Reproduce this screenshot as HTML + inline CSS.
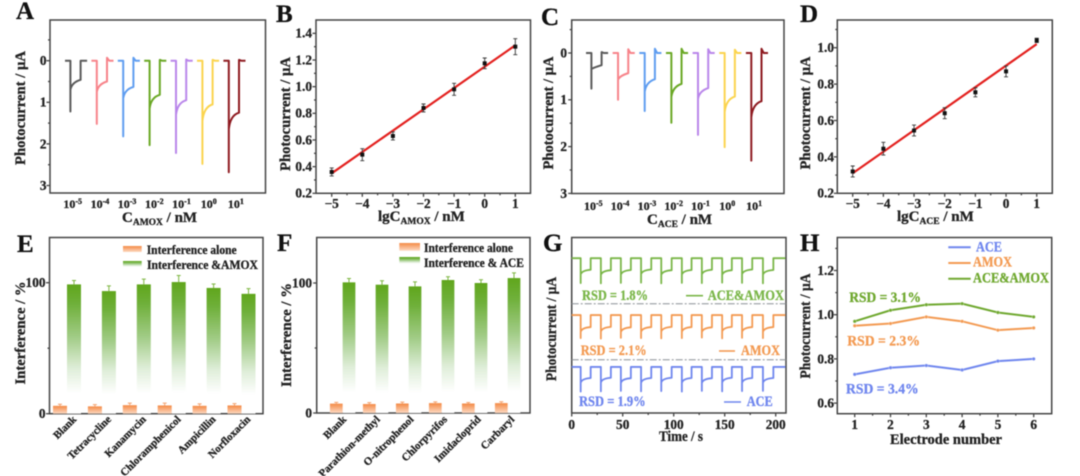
<!DOCTYPE html>
<html lang="en">
<head>
<meta charset="utf-8">
<title>Photocurrent sensing figure</title>
<style>
html,body{margin:0;padding:0;background:#fff;}
svg{display:block;filter:blur(0.5px);}
text{font-family:"Liberation Serif","DejaVu Serif",serif;font-weight:bold;color:#222;fill:currentColor;stroke:currentColor;stroke-width:.3px;}
.frame{fill:none;stroke:#444;stroke-width:1.5;}
.letter{font-size:25px;color:#111;}
.tick{font-size:13.3px;}
.conc{font-size:12px;}
.title{font-size:15px;}
.sub{font-size:9.5px;}
.cat{font-size:10.8px;}
.leg{font-size:12.5px;}
.rsd{font-size:14.5px;}
.lg{font-size:14.5px;}
</style>
</head>
<body>
<svg id="fig" width="1080" height="476" viewBox="0 0 1080 476" xmlns="http://www.w3.org/2000/svg">
<defs>
<linearGradient id="gradG" x1="0" y1="0" x2="0" y2="1">
<stop offset="0" stop-color="#60a61c"/><stop offset="0.15" stop-color="#6fb03a"/><stop offset="0.4" stop-color="#a0cb84"/><stop offset="0.65" stop-color="#dfeed9"/><stop offset="0.84" stop-color="#ffffff"/>
</linearGradient>
<linearGradient id="gradO" x1="0" y1="0" x2="0" y2="1">
<stop offset="0" stop-color="#f48a45"/><stop offset="1" stop-color="#fdd9c2"/>
</linearGradient>
</defs>

<g id="panelA">
<text class="letter" x="16" y="19">A</text>
<rect class="frame" x="50" y="20" width="215.5" height="173"/>
<text class="title" transform="translate(25,108) rotate(-90)" text-anchor="middle" textLength="114" lengthAdjust="spacingAndGlyphs">Photocurrent / µA</text>
<text class="title" x="122" y="222">C<tspan class="sub" dy="3">AMOX</tspan><tspan dy="-3"> / nM</tspan></text>
</g>

<g id="panelB">
<text class="letter" x="276" y="22">B</text>
<rect class="frame" x="316" y="20" width="214.5" height="173.3"/>
<text class="title" transform="translate(290,114) rotate(-90)" text-anchor="middle" textLength="114" lengthAdjust="spacingAndGlyphs">Photocurrent / µA</text>
<text class="title" x="378" y="221">lgC<tspan class="sub" dy="3">AMOX</tspan><tspan dy="-3"> / nM</tspan></text>
</g>

<g id="panelC">
<text class="letter" x="541" y="25">C</text>
<rect class="frame" x="571.7" y="20" width="212.3" height="173.5"/>
<text class="title" transform="translate(553,113) rotate(-90)" text-anchor="middle" textLength="113" lengthAdjust="spacingAndGlyphs">Photocurrent / µA</text>
<text class="title" x="647" y="224">C<tspan class="sub" dy="3">ACE</tspan><tspan dy="-3"> / nM</tspan></text>
</g>

<g id="panelD">
<text class="letter" x="800" y="22">D</text>
<rect class="frame" x="837.3" y="20" width="215" height="173.3"/>
<text class="title" transform="translate(810,113) rotate(-90)" text-anchor="middle" textLength="113" lengthAdjust="spacingAndGlyphs">Photocurrent / µA</text>
<text class="title" x="897" y="221">lgC<tspan class="sub" dy="3">ACE</tspan><tspan dy="-3"> / nM</tspan></text>
</g>

<g id="panelE">
<text class="letter" x="17" y="252">E</text>
<rect class="frame" x="49.5" y="237.5" width="213.5" height="176.2"/>
<text class="title" transform="translate(25,333) rotate(-90)" text-anchor="middle" textLength="103" lengthAdjust="spacingAndGlyphs">Interference / %</text>
<rect x="123" y="246" width="18.7" height="6" fill="url(#gradO)"/>
<rect x="123" y="261" width="18.7" height="7" fill="url(#gradG)"/>
<text class="leg" x="146.7" y="254" textLength="90" lengthAdjust="spacingAndGlyphs">Interference alone</text>
<text class="leg" x="147" y="269" textLength="111" lengthAdjust="spacingAndGlyphs">Interference &amp;AMOX</text>
</g>

<g id="panelF">
<text class="letter" x="277" y="251">F</text>
<rect class="frame" x="316.7" y="237.5" width="213.3" height="175.5"/>
<text class="title" transform="translate(291,335) rotate(-90)" text-anchor="middle" textLength="104" lengthAdjust="spacingAndGlyphs">Interference / %</text>
<rect x="399.3" y="243" width="20.7" height="7.7" fill="url(#gradO)"/>
<rect x="399.3" y="257" width="20.7" height="8" fill="url(#gradG)"/>
<text class="leg" x="424" y="252" textLength="89" lengthAdjust="spacingAndGlyphs">Interference alone</text>
<text class="leg" x="424" y="267" textLength="100" lengthAdjust="spacingAndGlyphs">Interference &amp; ACE</text>
</g>

<g id="panelG">
<text class="letter" x="543" y="251">G</text>
<rect class="frame" x="571.7" y="237.5" width="214.3" height="175.5"/>
<text class="title" transform="translate(556,329) rotate(-90)" text-anchor="middle" textLength="104" lengthAdjust="spacingAndGlyphs">Photocurrent / µA</text>
<text class="title" x="659" y="441" textLength="44" lengthAdjust="spacingAndGlyphs">Time / s</text>
<line x1="571.7" x2="786" y1="303.7" y2="303.7" stroke="#8b9096" stroke-width="1" stroke-dasharray="7 2 2 2"/>
<line x1="571.7" x2="786" y1="359.7" y2="359.7" stroke="#8b9096" stroke-width="1" stroke-dasharray="7 2 2 2"/>
<text class="rsd" x="582" y="300" style="color:#7ab648" textLength="66" lengthAdjust="spacingAndGlyphs">RSD = 1.8%</text>
<text class="rsd" x="580.7" y="355" style="color:#f39a52" textLength="66" lengthAdjust="spacingAndGlyphs">RSD = 2.1%</text>
<text class="rsd" x="579" y="406" style="color:#6f86ee" textLength="66.7" lengthAdjust="spacingAndGlyphs">RSD = 1.9%</text>
<line x1="686" x2="703" y1="295.7" y2="295.7" stroke="#7ab648" stroke-width="1.6"/>
<line x1="719" x2="735" y1="351" y2="351" stroke="#f39a52" stroke-width="1.6"/>
<line x1="724" x2="741" y1="402" y2="402" stroke="#6f86ee" stroke-width="1.6"/>
<text class="lg" x="707.7" y="300" style="color:#7ab648" textLength="76.3" lengthAdjust="spacingAndGlyphs">ACE&amp;AMOX</text>
<text class="lg" x="741" y="355" style="color:#f39a52" textLength="39" lengthAdjust="spacingAndGlyphs">AMOX</text>
<text class="lg" x="746.7" y="406" style="color:#6f86ee" textLength="26" lengthAdjust="spacingAndGlyphs">ACE</text>
</g>

<g id="panelH">
<text class="letter" x="800" y="251">H</text>
<rect class="frame" x="837.3" y="237.5" width="214.4" height="176.2"/>
<text class="title" transform="translate(810,326) rotate(-90)" text-anchor="middle" textLength="105" lengthAdjust="spacingAndGlyphs">Photocurrent / µA</text>
<text class="title" x="890" y="444" textLength="112" lengthAdjust="spacingAndGlyphs">Electrode number</text>
<line x1="948.3" x2="970.7" y1="247.3" y2="247.3" stroke="#6f86ee" stroke-width="2"/>
<line x1="948.3" x2="970.7" y1="263" y2="263" stroke="#f39a52" stroke-width="2"/>
<line x1="948.3" x2="970.7" y1="278.7" y2="278.7" stroke="#6fa82f" stroke-width="2"/>
<text class="lg" x="976" y="251.3" style="color:#6f86ee" textLength="26" lengthAdjust="spacingAndGlyphs">ACE</text>
<text class="lg" x="973" y="266.7" style="color:#f39a52" textLength="39" lengthAdjust="spacingAndGlyphs">AMOX</text>
<text class="lg" x="973" y="282.3" style="color:#6fa82f" textLength="76" lengthAdjust="spacingAndGlyphs">ACE&amp;AMOX</text>
<text class="rsd" x="849.3" y="302" style="color:#6fa82f" textLength="71.7" lengthAdjust="spacingAndGlyphs">RSD = 3.1%</text>
<text class="rsd" x="847.3" y="345.3" style="color:#f39a52" textLength="72.7" lengthAdjust="spacingAndGlyphs">RSD = 2.3%</text>
<text class="rsd" x="846" y="393.7" style="color:#6f86ee" textLength="72.7" lengthAdjust="spacingAndGlyphs">RSD = 3.4%</text>
</g>
</svg>

<script>
// Panel A: transient peaks per concentration
const concExponents = ["-5","-4","-3","-2","-1","0","1"];
const traceColors = ["#5a5a5a","#f7838a","#5f9df0","#6aa825","#b986ea","#fbd44e","#8e1a20"];
const aPeak = [1.22,1.52,1.82,2.03,2.22,2.48,2.68];
const aKnee = [0.70,0.75,0.90,1.15,1.30,1.45,1.65];
const aPlateau = [0.46,0.50,0.63,0.82,0.95,1.05,1.25];
const aOvershoot = [0.0,0.07,0.07,0.02,0.03,0.02,0.02];
const aYTicks = [0,1,2,3];
const aYMinor = [-0.5,0.5,1.5,2.5];

// Panel C
const cPeak = [0.76,1.00,1.24,1.49,1.75,2.01,2.30];
const cKnee = [0.34,0.57,0.83,0.94,0.98,1.26,1.37];
const cPlateau = [0.26,0.43,0.56,0.66,0.75,0.93,1.03];
const cOvershoot = [0.02,0.08,0.09,0.09,0.08,0.07,0.09];
const cYTicks = [0,1,2,3];
const cYMinor = [-0.5,0.5,1.5,2.5];

// Panel B
const lgX = [-5,-4,-3,-2,-1,0,1];
const lgMinor = [-4.5,-3.5,-2.5,-1.5,-0.5,0.5];
const bValues = [0.36,0.49,0.63,0.84,0.98,1.175,1.30];
const bErrors = [0.03,0.045,0.03,0.03,0.045,0.04,0.06];
const bFit = [0.35,1.31];
const bYTicks = [0.2,0.4,0.6,0.8,1.0,1.2,1.4];
const bYMinor = [0.3,0.5,0.7,0.9,1.1,1.3];

// Panel D
const dValues = [0.32,0.445,0.545,0.64,0.755,0.87,1.04];
const dErrors = [0.03,0.035,0.03,0.03,0.025,0.03,0.012];
const dFit = [0.31,1.02];
const dYTicks = [0.2,0.4,0.6,0.8,1.0];
const dYMinor = [0.3,0.5,0.7,0.9,1.1];

// Panel E
const eCategories = ["Blank","Tetracycline","Kanamycin","Chloramphenicol","Ampicillin","Norfloxacin"];
const eMix = [98.7,93.6,98.7,100.5,96,91.5];
const eMixErr = [3,4,4,5,3,4];
const eAlone = [6,5.6,6.5,6.3,6,6.3];
const eAloneErr = [1.2,1.3,1.6,1.8,1.5,1.4];

// Panel F
const fCategories = ["Blank","Parathion-methyl","O-nitrophenol","Chlorpyrifos","Imidacloprid","Carbaryl"];
const fMix = [100.5,98.7,97.4,102.3,100,103.8];
const fMixErr = [3,3,3.5,2.5,2.5,4];
const fAlone = [7.2,6.9,7.3,7.6,7.3,7.6];
const fAloneErr = [1,1.1,1.1,1,0.8,1.1];

// Panel G: ten light on/off cycles (seconds; µA with stacking offsets)
const gDrop = [8.8,28.6,48.2,68,87.8,108,127.6,147.5,167,187.5];
const gRise = [18.6,38.4,58,78,98,117.5,137.5,157,177,197.7];
const gGreenPeak = [1.04,1.05,1.03,1.02,1.05,1.03,1.04,1.02,1.03,1.05];
const gGreenPlateau = [0.48,0.50,0.49,0.47,0.50,0.49,0.48,0.50,0.47,0.49];
const gOrangePeak = [0.96,0.98,0.95,0.96,0.97,0.96,0.94,0.97,0.95,0.96];
const gOrangePlateau = [0.50,0.49,0.51,0.50,0.49,0.50,0.51,0.49,0.50,0.50];
const gBluePeak = [1.03,1.02,1.00,1.02,1.01,1.03,1.00,1.02,1.01,1.00];
const gBluePlateau = [0.46,0.45,0.47,0.46,0.45,0.46,0.47,0.45,0.46,0.46];
const gOffsets = [6.45,4.08,1.92];
const gXTicks = [0,50,100,150,200];
const gXMinor = [25,75,125,175];

// Panel H
const hElectrodes = [1,2,3,4,5,6];
const hAce = [0.73,0.76,0.77,0.75,0.79,0.80];
const hAmox = [0.95,0.96,0.99,0.97,0.93,0.94];
const hBoth = [0.97,1.02,1.045,1.05,1.01,0.99];
const hYTicks = [0.6,0.8,1.0,1.2];
const hYMinor = [0.7,0.9,1.1,1.3];
const hXMinor = [1.5,2.5,3.5,4.5,5.5];

const NS = "http://www.w3.org/2000/svg";
function mk(tag, attrs, parent) {
  const el = document.createElementNS(NS, tag);
  for (const k in attrs) el.setAttribute(k, attrs[k]);
  parent.appendChild(el);
  return el;
}
const panel = id => document.getElementById(id);

function ticksX(g, vals, fx, y0, len, tag) {
  vals.forEach(v => {
    const el = mk("line", {x1: fx(v), x2: fx(v), y1: y0, y2: y0 + len, stroke: "#444", "stroke-width": 1.3}, g);
    
    
  });
}
function ticksY(g, vals, fy, x0, len, tag) {
  vals.forEach(v => {
    const el = mk("line", {x1: x0 - len, x2: x0, y1: fy(v), y2: fy(v), stroke: "#444", "stroke-width": 1.3}, g);
    
    
  });
}
function labelsY(g, vals, fy, xEnd, digits, tag) {
  vals.forEach(v => {
    const el = mk("text", {x: xEnd, y: fy(v) + 4.4, "text-anchor": "end", class: "tick"}, g);
    el.textContent = v.toFixed(digits);
    
    
  });
}
function labelsX(g, vals, fx, y, tag) {
  vals.forEach(v => {
    const el = mk("text", {x: fx(v), y: y, "text-anchor": "middle", class: "tick"}, g);
    el.textContent = String(v).replace("-", "\u2212");
    
    
  });
}

// Transient panels A & C
function drawTransients(g, tag, peak, knee, plateau, over, fX, fY, labelX, labelY) {
  peak.forEach((p, i) => {
    const s = fX(i), d = s + 5.4, r = d + 10.2, e = r + 6.5;
    const dPath = "M" + s + " " + fY(0) + "L" + d + " " + fY(0) + "L" + d + " " + fY(p) +
      "L" + d + " " + fY(knee[i]) + "Q" + (d + 1.4) + " " + fY(plateau[i] + 0.06) + " " + r + " " + fY(plateau[i]) +
      "L" + r + " " + fY(-over[i]) + "L" + (r + 2.2) + " " + fY(0) + "L" + e + " " + fY(0);
    const el = mk("path", {d: dPath, fill: "none", stroke: traceColors[i], "stroke-width": 2, "stroke-linejoin": "round"}, g);
    
    
    const t = mk("text", {x: labelX(i), y: labelY, "text-anchor": "middle", class: "conc"}, g);
    t.textContent = "10";
    
    
    const sup = mk("tspan", {dy: -4, style: "font-size:8px"}, t);
    sup.textContent = concExponents[i];
    
    
  });
}
const gA = panel("panelA");
const aY = v => 60.7 + 41.6 * v;
drawTransients(gA, "a", aPeak, aKnee, aPlateau, aOvershoot, i => 65 + 26.4 * i, aY, i => 72.7 + 27.2 * i, 208);
ticksY(gA, aYTicks, aY, 50, 3.5, "a");
ticksY(gA, aYMinor, aY, 50, 2, "a-minor");
labelsY(gA, aYTicks, aY, 46.5, 0, "a");

const gC = panel("panelC");
const cY = v => 53 + 46.8 * v;
drawTransients(gC, "c", cPeak, cKnee, cPlateau, cOvershoot, i => 586 + 26.65 * i, cY, i => 593.3 + 26.8 * i, 210);
ticksY(gC, cYTicks, cY, 571.7, 3.5, "c");
ticksY(gC, cYMinor, cY, 571.7, 2, "c-minor");
labelsY(gC, cYTicks, cY, 567, 0, "c");

// Calibration panels B & D
function drawCalibration(g, tag, vals, errs, fit, fx, fy) {
  const line = mk("line", {x1: fx(lgX[0]), y1: fy(fit[0]), x2: fx(lgX[lgX.length - 1]), y2: fy(fit[1]), stroke: "#e3211f", "stroke-width": 2.2}, g);
  
  
  vals.forEach((v, i) => {
    const x = fx(lgX[i]);
    const bar = mk("path", {d: "M" + x + " " + fy(v - errs[i]) + "L" + x + " " + fy(v + errs[i]) +
      "M" + (x - 2) + " " + fy(v - errs[i]) + "h4M" + (x - 2) + " " + fy(v + errs[i]) + "h4", stroke: "#333", "stroke-width": 0.9, fill: "none"}, g);
    
    
    const pt = mk("rect", {x: x - 2, y: fy(v) - 2, width: 4, height: 4, fill: "#111"}, g);
    
    
  });
}
const gB = panel("panelB");
const bX = v => 331.7 + 30.6 * (v + 5);
const bY = v => 193.3 - 133.3 * (v - 0.2);
drawCalibration(gB, "b", bValues, bErrors, bFit, bX, bY);
ticksX(gB, lgX, bX, 193.3, 3.5, "b");
ticksX(gB, lgMinor, bX, 193.3, 2, "b-minor");
ticksY(gB, bYTicks, bY, 316, 3.5, "b");
ticksY(gB, bYMinor, bY, 316, 2, "b-minor");
labelsY(gB, bYTicks, bY, 312, 1, "b");
labelsX(gB, lgX, bX, 208, "b");

const gD = panel("panelD");
const dX = v => 852.7 + 30.67 * (v + 5);
const dY = v => 193.3 - 182 * (v - 0.2);
drawCalibration(gD, "d", dValues, dErrors, dFit, dX, dY);
ticksX(gD, lgX, dX, 193.3, 3.5, "d");
ticksX(gD, lgMinor, dX, 193.3, 2, "d-minor");
ticksY(gD, dYTicks, dY, 837.3, 3.5, "d");
ticksY(gD, dYMinor, dY, 837.3, 2, "d-minor");
labelsY(gD, dYTicks, dY, 834, 1, "d");
labelsX(gD, lgX, dX, 208, "d");

// Interference bars E & F
function drawBars(g, tag, cats, mix, mixErr, alone, aloneErr, fx, fy, w, off, catEnd, catY) {
  cats.forEach((c, i) => {
    const gx = fx(i), ox = gx - off;
    const b = mk("rect", {x: gx - w / 2, y: fy(mix[i]), width: w, height: fy(0) - fy(mix[i]), fill: "url(#gradG)"}, g);
    
    
    const be = mk("path", {d: "M" + gx + " " + fy(mix[i]) + "V" + fy(mix[i] + mixErr[i]) + "M" + (gx - 2) + " " + fy(mix[i] + mixErr[i]) + "h4", stroke: "#7cb53f", "stroke-width": 1, fill: "none"}, g);
    
    
    const a = mk("rect", {x: ox - w / 2, y: fy(alone[i]), width: w, height: fy(0) - fy(alone[i]), fill: "url(#gradO)"}, g);
    
    
    const ae = mk("path", {d: "M" + ox + " " + fy(alone[i]) + "V" + fy(alone[i] + aloneErr[i]) + "M" + (ox - 2) + " " + fy(alone[i] + aloneErr[i]) + "h4", stroke: "#f4a06a", "stroke-width": 1, fill: "none"}, g);
    
    
    const t = mk("text", {class: "cat", "text-anchor": "end", transform: "translate(" + catEnd(i) + "," + catY + ") rotate(-45)"}, g);
    t.textContent = c;
    
    
  });
}
const gE = panel("panelE");
const eY = v => 413.7 - 1.31 * v;
drawBars(gE, "e", eCategories, eMix, eMixErr, eAlone, eAloneErr, i => 74 + 34.9 * i, eY, 14, 14, i => 77 + 34.8 * i, 420);
ticksY(gE, [0, 100], eY, 49.5, 3.5, "e");
ticksY(gE, [50], eY, 49.5, 2, "e-minor");
labelsY(gE, [0, 100], eY, 45.5, 0, "e");

const gF = panel("panelF");
const fY = v => 413 - 1.3 * v;
drawBars(gF, "f", fCategories, fMix, fMixErr, fAlone, fAloneErr, i => 349 + 33 * i, fY, 12.7, 12.7, i => 347 + 33.6 * i, 420);
ticksY(gF, [0, 100], fY, 316.7, 3.5, "f");
ticksY(gF, [50], fY, 316.7, 2, "f-minor");
labelsY(gF, [0, 100], fY, 312, 0, "f");

// Stability panel G
const gGroup = panel("panelG");
const gX = t => 571.7 + 1.02 * t;
const gY = v => 413 - 24 * v;
function drawSwitching(name, color, offset, peaks, plateaus) {
  let d = "M" + gX(0) + " " + gY(offset);
  gDrop.forEach((t, i) => {
    const pk = offset - peaks[i], pl = offset - plateaus[i], kn = pl - 0.2;
    d += "L" + gX(t) + " " + gY(offset) + "L" + gX(t) + " " + gY(pk) + "L" + gX(t) + " " + gY(kn) +
      "Q" + gX(t + 1) + " " + gY(pl - 0.03) + " " + gX(gRise[i]) + " " + gY(pl) +
      "L" + gX(gRise[i]) + " " + gY(offset);
  });
  d += "L" + gX(209.5) + " " + gY(offset);
  const el = mk("path", {d: d, fill: "none", stroke: color, "stroke-width": 1.8, "stroke-linejoin": "round"}, gGroup);
  
  
}
drawSwitching("series-ace-amox-switching", "#7ab648", gOffsets[0], gGreenPeak, gGreenPlateau);
drawSwitching("series-amox-switching", "#f39a52", gOffsets[1], gOrangePeak, gOrangePlateau);
drawSwitching("series-ace-switching", "#6f86ee", gOffsets[2], gBluePeak, gBluePlateau);
ticksX(gGroup, gXTicks, gX, 413, 3.5, "g");
ticksX(gGroup, gXMinor, gX, 413, 2, "g-minor");
labelsX(gGroup, gXTicks, gX, 429, "g");

// Electrode reproducibility panel H
const gH = panel("panelH");
const hX = v => 854.7 + 35.8 * (v - 1);
const hY = v => 314.7 - 221 * (v - 1);
function drawSeries(name, color, vals) {
  const pts = vals.map((v, i) => hX(hElectrodes[i]) + "," + hY(v)).join(" ");
  const el = mk("polyline", {points: pts, fill: "none", stroke: color, "stroke-width": 2}, gH);
  
  
  vals.forEach((v, i) => {
    const c = mk("circle", {cx: hX(hElectrodes[i]), cy: hY(v), r: 1.7, fill: color, stroke: "#fff", "stroke-opacity": 0.5, "stroke-width": 0.5}, gH);
    
    
  });
}
drawSeries("series-ace", "#6f86ee", hAce);
drawSeries("series-amox", "#f39a52", hAmox);
drawSeries("series-ace-amox", "#6fa82f", hBoth);
ticksX(gH, hElectrodes, hX, 413.7, 3.5, "h");
ticksX(gH, hXMinor, hX, 413.7, 2, "h-minor");
ticksY(gH, hYTicks, hY, 837.3, 3.5, "h");
ticksY(gH, hYMinor, hY, 837.3, 2, "h-minor");
labelsY(gH, hYTicks, hY, 834, 1, "h");
labelsX(gH, hElectrodes, hX, 429, "h");
</script>
</body>
</html>
